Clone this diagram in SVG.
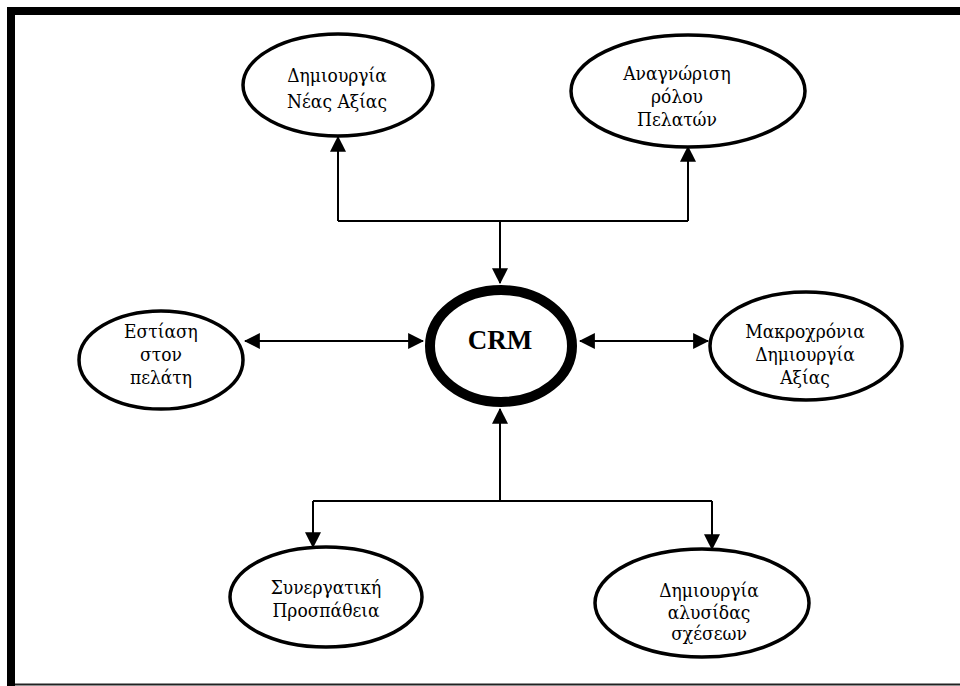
<svg xmlns="http://www.w3.org/2000/svg" width="960" height="686" viewBox="0 0 960 686">
  <style>
    .node ellipse { fill: #ffffff; stroke: #000000; stroke-width: 3.5; }
    .node text { font-family: "DejaVu Serif Condensed", "DejaVu Serif", "Liberation Serif", serif; font-stretch: condensed; font-size: 19px; fill: #000000; text-anchor: middle; }
    #crm ellipse { stroke-width: 10; }
    #crm text { font-family: "Liberation Serif", "Times New Roman", serif; font-stretch: normal; font-weight: bold; font-size: 27px; }
    .conn { fill: none; stroke: #000000; stroke-width: 2; }
  </style>
  <defs>
    <marker id="arrow" markerUnits="userSpaceOnUse" markerWidth="16" markerHeight="16" viewBox="0 0 14 14" refX="13" refY="7" orient="auto-start-reverse">
      <path d="M0,0 L14,7 L0,14 Z" fill="#000000"/>
    </marker>
  </defs>

  <rect width="960" height="686" fill="#ffffff"/>

  <!-- page frame -->
  <g id="frame">
    <rect x="7" y="7" width="953" height="8" fill="#000000"/>
    <rect x="7" y="7" width="8" height="679" fill="#000000"/>
    <line x1="15" y1="684.5" x2="960" y2="684.5" stroke="#222222" stroke-width="2"/>
  </g>

  <!-- connectors -->
  <g id="connectors">
    <path class="conn" d="M338,221 H688"/>
    <path class="conn" d="M338,221 V137" marker-end="url(#arrow)"/>
    <path class="conn" d="M688,221 V147" marker-end="url(#arrow)"/>
    <path class="conn" d="M500,221 V283" marker-end="url(#arrow)"/>
    <path class="conn" d="M245,341 H423" marker-start="url(#arrow)" marker-end="url(#arrow)"/>
    <path class="conn" d="M580,341 H708" marker-start="url(#arrow)" marker-end="url(#arrow)"/>
    <path class="conn" d="M500,501 V409" marker-end="url(#arrow)"/>
    <path class="conn" d="M313,501 H712"/>
    <path class="conn" d="M313,501 V547" marker-end="url(#arrow)"/>
    <path class="conn" d="M712,501 V549" marker-end="url(#arrow)"/>
  </g>

  <!-- nodes -->
  <g id="new-value" class="node">
    <ellipse cx="338" cy="85" rx="95" ry="51"/>
    <text x="337" y="82">Δημιουργία</text>
    <text x="337" y="108">Νέας Αξίας</text>
  </g>

  <g id="customer-role" class="node">
    <ellipse cx="688" cy="91" rx="117" ry="56"/>
    <text x="677" y="80">Αναγνώριση</text>
    <text x="677" y="103">ρόλου</text>
    <text x="677" y="126">Πελατών</text>
  </g>

  <g id="customer-focus" class="node">
    <ellipse cx="161" cy="360" rx="82" ry="49"/>
    <text x="161" y="338">Εστίαση</text>
    <text x="161" y="361">στον</text>
    <text x="161" y="384">πελάτη</text>
  </g>

  <g id="crm" class="node">
    <ellipse cx="501" cy="346" rx="71" ry="56"/>
    <text x="500" y="349">CRM</text>
  </g>

  <g id="long-term-value" class="node">
    <ellipse cx="806" cy="346" rx="96" ry="54"/>
    <text x="805" y="338">Μακροχρόνια</text>
    <text x="805" y="361">Δημιουργία</text>
    <text x="805" y="384">Αξίας</text>
  </g>

  <g id="cooperation" class="node">
    <ellipse cx="326" cy="597" rx="96" ry="50"/>
    <text x="326" y="594">Συνεργατική</text>
    <text x="326" y="617">Προσπάθεια</text>
  </g>

  <g id="relationship-chain" class="node">
    <ellipse cx="702" cy="603" rx="107" ry="54"/>
    <text x="709" y="597">Δημιουργία</text>
    <text x="709" y="619">αλυσίδας</text>
    <text x="709" y="640">σχέσεων</text>
  </g>
</svg>
